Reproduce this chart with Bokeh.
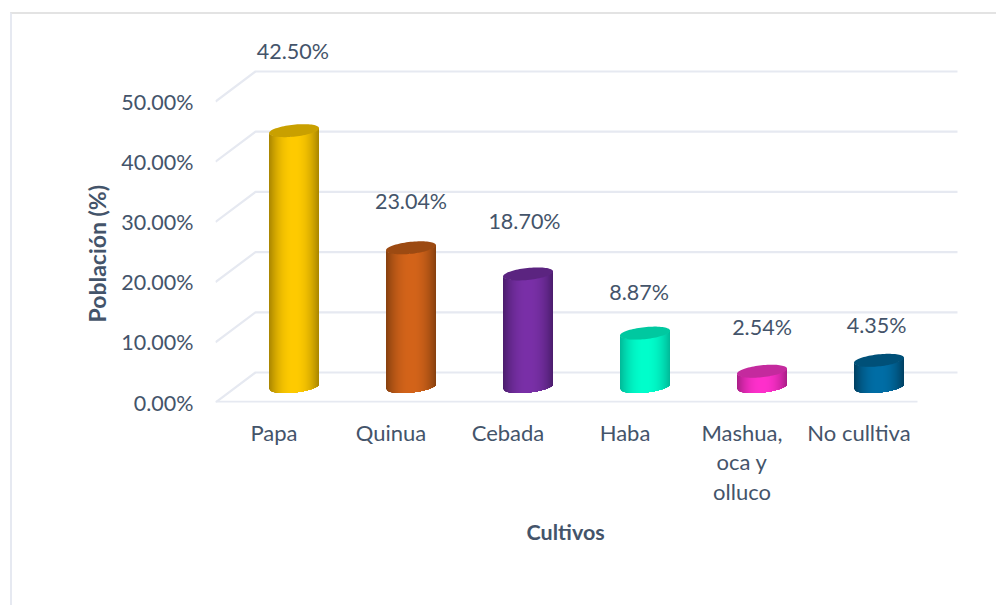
from bokeh.core.properties import value
from bokeh.embed import file_html
from bokeh.models import FixedTicker, Range1d, Title
from bokeh.plotting import figure
from bokeh.resources import INLINE
import numpy as np

# Chart values
cultivos = ["Papa", "Quinua", "Cebada", "Haba", "Mashua,\noca y\nolluco", "No culltiva"]
poblacion = [42.50, 23.04, 18.70, 8.87, 2.54, 4.35]
etiquetas = ["42.50%", "23.04%", "18.70%", "8.87%", "2.54%", "4.35%"]
y_ticks = [0, 10, 20, 30, 40, 50]
y_labels = ["0.00%", "10.00%", "20.00%", "30.00%", "40.00%", "50.00%"]

# Cylinder colours: centre of the body, edge of the body, top cap
centro = ["#ffcb00", "#d4641a", "#7a30a8", "#00ffcc", "#ff30cc", "#006ea6"]
borde = ["#a88400", "#86400f", "#4a1d6c", "#00b898", "#a81e86", "#003f60"]
tapa = ["#c9a000", "#9c4a12", "#5b2480", "#00c8a0", "#c42a9e", "#005078"]

# Data label placement: shift from the bar axis and height above the bar top
label_dx = [-0.01, 0.0, -0.03, -0.05, 0.0, -0.02]
label_gap = [13.3, 7.7, 8.8, 6.8, 7.3, 5.8]

# Scales of the 3D box
PX_X = 117.0
PX_Y = 6.02
DEPTH_X = 40 / PX_X
DEPTH_Y = 30 / PX_Y
RIGHT = 5.5
TEXT = "#44546a"
GRID = "#e6e9f1"
FONT = "Lato"

# The figure sits inside the chart area, whose top and left borders are page styles
FRAME_H = 388
FRAME_W = 781
p = figure(
    width=986, height=591, output_backend="svg", toolbar_location=None,
    frame_width=FRAME_W, frame_height=FRAME_H,
    min_border_left=203, min_border_right=0, min_border_top=0, min_border_bottom=203,
    x_range=Range1d(-0.5, -0.5 + FRAME_W / PX_X),
    y_range=Range1d(0, FRAME_H / PX_Y),
    outline_line_color=None, background_fill_color="white",
    margin=(12, 0, 0, 10),
    styles={"border-top": "2px solid #e3e3e3", "border-left": "2px solid #e6e9f1"},
)
p.grid.visible = False

for axis, ticks, labels in (
    (p.yaxis[0], y_ticks, y_labels),
    (p.xaxis[0], list(range(len(cultivos))), cultivos),
):
    axis.ticker = FixedTicker(ticks=ticks)
    axis.major_label_overrides = dict(zip(ticks, labels))
    axis.axis_line_color = None
    axis.major_tick_line_color = None
    axis.minor_tick_line_color = None
    axis.major_label_text_color = TEXT
    axis.major_label_text_font = FONT
p.yaxis[0].major_label_text_font_size = "21.5px"
p.xaxis[0].major_label_text_font_size = "22px"
p.xaxis[0].major_label_text_line_height = 1.1
p.yaxis[0].major_label_standoff = 16
p.xaxis[0].major_label_standoff = 10

# Back wall, side wall and floor of the box
left = -0.5
for t in y_ticks:
    p.line([left, left + DEPTH_X, RIGHT + DEPTH_X], [t, t + DEPTH_Y, t + DEPTH_Y],
           line_color=GRID, line_width=2.2)
p.line([left, RIGHT], [0.1, 0.1], line_color=GRID, line_width=2.2)

# Cylinders: the body is a stack of shaded layers between two tilted ellipses,
# each layer reaching the right edge so that no seams show between them
HALF = 25 / PX_X
CAP = 6 / PX_Y
TILT = 2.5 / PX_Y
edges = np.linspace(-1, 1, 51)


def lower(u, cy):
    return cy + TILT * u - CAP * np.sqrt(np.clip(1 - u ** 2, 0, 1))


def rgb(c):
    return np.array([int(c[i:i + 2], 16) for i in (1, 3, 5)], dtype=float)


for i, v in enumerate(poblacion):
    cx = i + DEPTH_X / 2
    y0 = DEPTH_Y / 2 + 1 / PX_Y
    y1 = y0 + v
    for a, b in zip(edges[:-1], edges[1:]):
        us = np.linspace(a, 1, 30)
        m = abs((a + b) / 2) ** 2.2
        c = rgb(centro[i]) * (1 - m) + rgb(borde[i]) * m
        col = "#%02x%02x%02x" % tuple(int(k) for k in c)
        p.patch(list(cx + HALF * us) + list(cx + HALF * us[::-1]),
                list(lower(us, y1)) + list(lower(us[::-1], y0)),
                fill_color=col, line_color=None)
    th = np.linspace(0, 2 * np.pi, 80)
    p.patch(cx + HALF * np.cos(th),
            y1 + TILT * np.cos(th) + CAP * np.sin(th),
            fill_color=tapa[i], line_color=None)
    p.text([cx + label_dx[i]], [y1 + label_gap[i]], text=[etiquetas[i]],
           text_color=TEXT, text_font=value(FONT), text_font_size="21.5px",
           text_align="center", text_baseline="middle")

# Axis titles, centred on the front face of the box
p.add_layout(Title(text="Cultivos", align="left", offset=311, standoff=18,
                   text_color=TEXT, text_font=FONT, text_font_size="21.5px",
                   text_font_style="bold"), "below")
p.add_layout(Title(text="Población (%)", align="left", offset=80, standoff=15,
                   text_color=TEXT, text_font=FONT, text_font_size="23px",
                   text_font_style="bold"), "left")

open("out.html", "w").write(file_html(p, INLINE))
